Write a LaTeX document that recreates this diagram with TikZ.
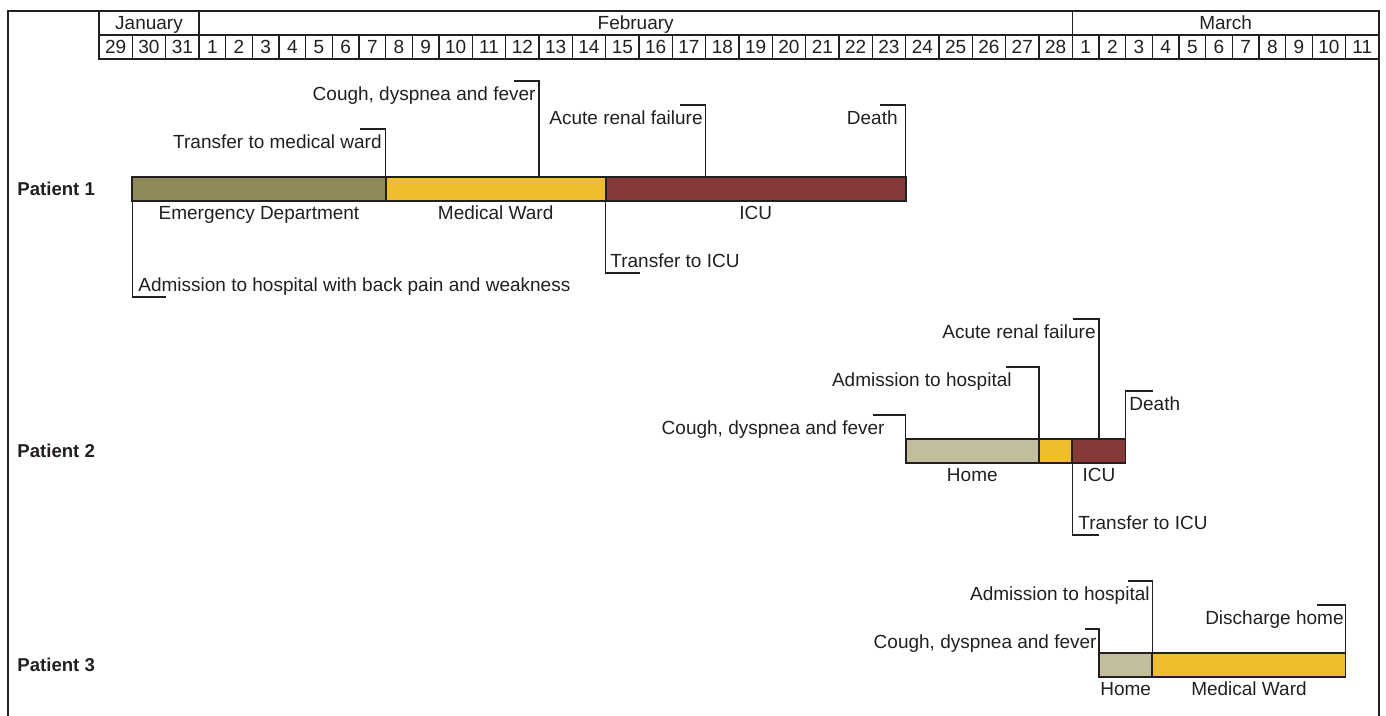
\documentclass[tikz,border=0pt]{standalone}
\usepackage{fontspec}
\setmainfont{Liberation Sans}
\usetikzlibrary{positioning}
\definecolor{edgreen}{RGB}{143,136,87}
\definecolor{wardyellow}{RGB}{239,190,46}
\definecolor{icured}{RGB}{135,58,58}
\definecolor{homebeige}{RGB}{194,189,154}
\definecolor{ink}{RGB}{35,31,32}
\tikzset{
    day/.style={draw=ink, line width=0.7pt, inner sep=0pt, outer sep=0pt, minimum height=12pt},
    cell/.style={draw=ink, line width=0.7pt},
    month/.style={inner sep=0pt, text depth=0pt},
    frame/.style={draw=ink, line width=1.1pt},
    bar/.style={draw=ink, line width=0.85pt},
    seg/.style={inner sep=0pt, text depth=0pt, yshift=-12pt},
    lbl/.style={inner sep=0pt},
    lead/.style={draw=ink, line width=0.75pt},
    patient/.style={inner sep=0pt, text depth=0pt, font=\fontsize{9.3}{11}\selectfont\bfseries}
}

\begin{document}
\begin{tikzpicture}[x=0.5pt, y=-0.5pt, color=ink, font=\fontsize{9.5}{11}\selectfont]
        \useasboundingbox (0,0) rectangle (1386,716);
        \coordinate (top) at (0,11);
        \foreach \lab [count=\i, remember=\i as \j (initially 0)] in {29,30,31,1,2,3,4,5,6,7,8,9,10,11,12,13,14,15,16,17,18,19,20,21,22,23,24,25,26,27,28,1,2,3,4,5,6,7,8,9,10,11} {
            \ifnum\i=1
                \node[day, minimum width=16.667pt, anchor=north west] (c1) at (99,35) {\lab};
            \else
                \node[day, minimum width={13.333pt+3.333pt*(\lab>9)}, right=0pt of c\j] (c\i) {\lab};
            \fi
        }
        \draw[cell] (c1.north west) rectangle (c3.north east |- top) node[midway, month] (jan) {January};
        \draw[cell] (c4.north west) rectangle (c31.north east |- top) node[midway, month] (feb) {February};
        \draw[cell] (c32.north west) rectangle (c42.north east |- top) node[midway, month] (mar) {March};
        \draw[frame] (8,716) |- (c42.north east |- top) -- (c42.east |- 0,716);

        \node[patient, anchor=west] (pat1) at (17,189) {Patient 1};
        \coordinate (p1t) at (0,177);
        \coordinate (p1b) at (0,201);
        \node[lbl, anchor=base east] (cough1) at (536,100.5) {Cough, dyspnea and fever};
        \node[lbl, anchor=base east] (tmw1) at (382,148.5) {Transfer to medical ward};
        \node[lbl, anchor=base east] (arf1) at (703,124.5) {Acute renal failure};
        \node[lbl, anchor=base east] (death1) at (898,124.5) {Death};
        \node[lbl, anchor=base west] (ticu1) at (610,267.5) {Transfer to ICU};
        \node[lbl, anchor=base west] (adm1) at (138,291.5) {Admission to hospital with back pain and weakness};
        \coordinate (cough1h) at (514,81);
        \coordinate (tmw1h) at (360,129);
        \coordinate (arf1h) at (680,105);
        \coordinate (death1h) at (880,105);
        \coordinate (ticu1h) at (640,273);
        \coordinate (adm1h) at (166,297);
        \draw[lead] (c16.west |- p1t) |- (cough1h);
        \draw[lead] (c11.west |- p1t) |- (tmw1h);
        \draw[lead] (c21.west |- p1t) |- (arf1h);
        \draw[lead] (c27.west |- p1t) |- (death1h);
        \draw[lead] (c18.west |- p1b) |- (ticu1h);
        \draw[lead] (c2.west |- p1b) |- (adm1h);
        \draw[bar, fill=edgreen] (c2.west |- p1t) rectangle (c11.west |- p1b) node[midway, seg] (ed1) {Emergency Department};
        \draw[bar, fill=wardyellow] (c11.west |- p1t) rectangle (c18.west |- p1b) node[midway, seg] (ward1) {Medical Ward};
        \draw[bar, fill=icured] (c18.west |- p1t) rectangle (c27.west |- p1b) node[midway, seg] (icu1) {ICU};

        \node[patient, anchor=west] (pat2) at (17,451) {Patient 2};
        \coordinate (p2t) at (0,439);
        \coordinate (p2b) at (0,463);
        \node[lbl, anchor=base east] (cough2) at (885,434.5) {Cough, dyspnea and fever};
        \node[lbl, anchor=base east] (adm2) at (1012,386.5) {Admission to hospital};
        \node[lbl, anchor=base east] (arf2) at (1096,338.5) {Acute renal failure};
        \node[lbl, anchor=base west] (death2) at (1129,410) {Death};
        \node[lbl, anchor=base west] (ticu2) at (1078,529.5) {Transfer to ICU};
        \coordinate (cough2h) at (873,415);
        \coordinate (adm2h) at (1006,367);
        \coordinate (arf2h) at (1073,319);
        \coordinate (death2h) at (1153,391);
        \coordinate (ticu2h) at (1099,535);
        \draw[lead] (c27.west |- p2t) |- (cough2h);
        \draw[lead] (c31.west |- p2t) |- (adm2h);
        \draw[lead] (c33.west |- p2t) |- (arf2h);
        \draw[lead] (c34.west |- p2t) |- (death2h);
        \draw[lead] (c32.west |- p2b) |- (ticu2h);
        \draw[bar, fill=homebeige] (c27.west |- p2t) rectangle (c31.west |- p2b) node[midway, seg] (home2) {Home};
        \draw[bar, fill=wardyellow] (c31.west |- p2t) rectangle (c32.west |- p2b);
        \draw[bar, fill=icured] (c32.west |- p2t) rectangle (c34.west |- p2b) node[midway, seg] (icu2) {ICU};

        \node[patient, anchor=west] (pat3) at (17,665) {Patient 3};
        \coordinate (p3t) at (0,653);
        \coordinate (p3b) at (0,677);
        \node[lbl, anchor=base east] (cough3) at (1097,648.5) {Cough, dyspnea and fever};
        \node[lbl, anchor=base east] (adm3) at (1150,600.5) {Admission to hospital};
        \node[lbl, anchor=base east] (dis3) at (1344,624.5) {Discharge home};
        \coordinate (cough3h) at (1085,629);
        \coordinate (adm3h) at (1128,581);
        \coordinate (dis3h) at (1317,605);
        \draw[lead] (c33.west |- p3t) |- (cough3h);
        \draw[lead] (c35.west |- p3t) |- (adm3h);
        \draw[lead] (c42.west |- p3t) |- (dis3h);
        \draw[bar, fill=homebeige] (c33.west |- p3t) rectangle (c35.west |- p3b) node[midway, seg] (home3) {Home};
        \draw[bar, fill=wardyellow] (c35.west |- p3t) rectangle (c42.west |- p3b) node[midway, seg] (ward3) {Medical Ward};
\end{tikzpicture}
\end{document}
